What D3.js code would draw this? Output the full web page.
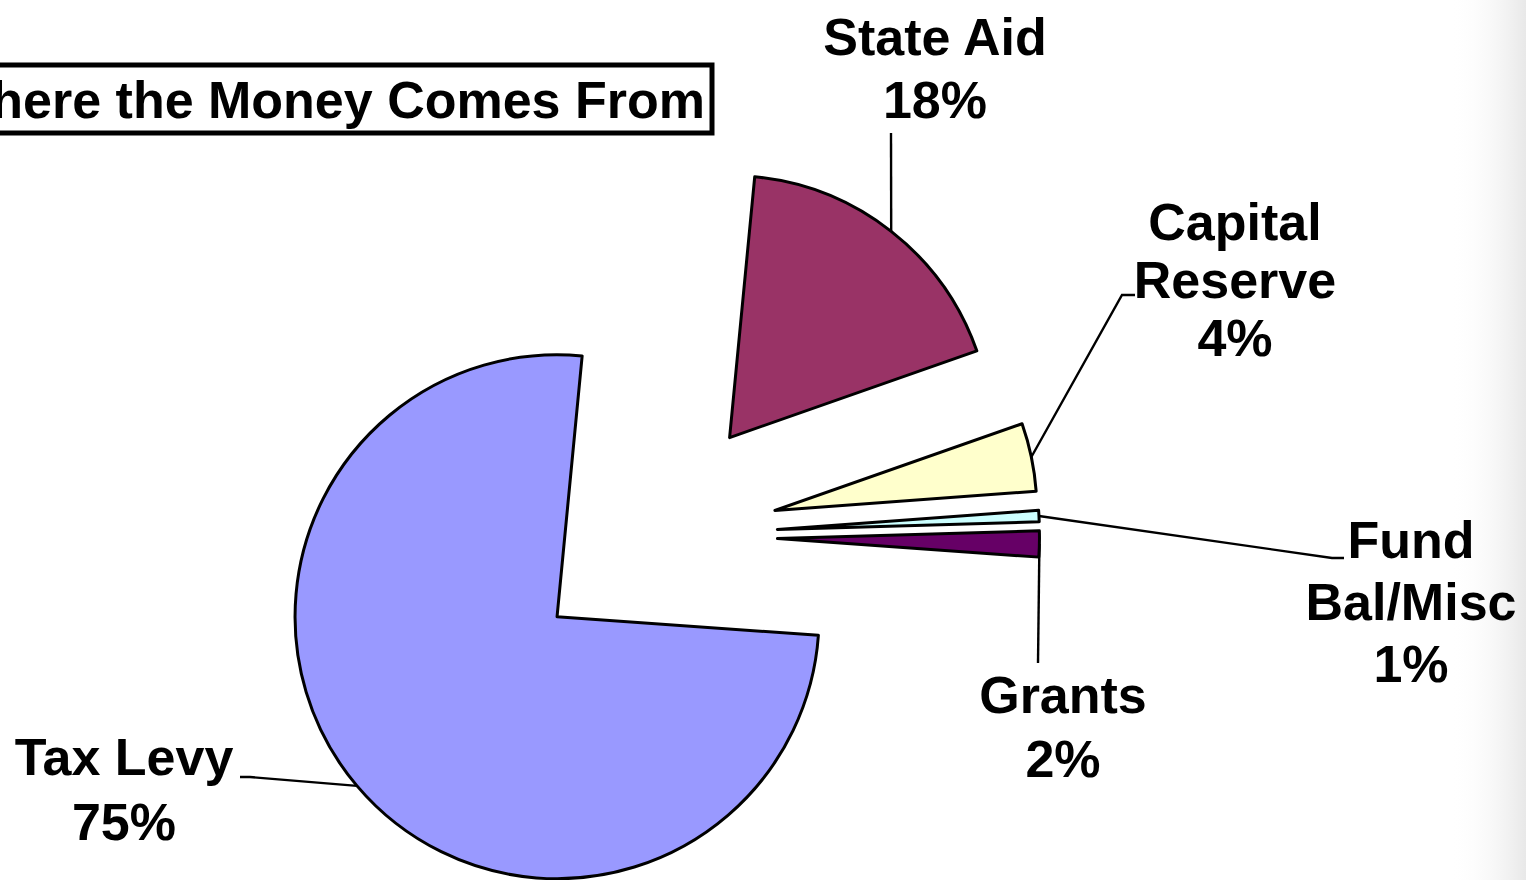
<!DOCTYPE html>
<html>
<head>
<meta charset="utf-8">
<script src="https://cdn.jsdelivr.net/npm/d3@7"></script>
<style>
  html, body { margin: 0; padding: 0; background: #fff; overflow: hidden; }
  svg { display: block; }
  text { font-family: "Liberation Sans", Arial, sans-serif; font-weight: bold; fill: #000; }
</style>
</head>
<body>
<svg id="chart" width="1526" height="880"></svg>
<script>
// ---- data ----
const categories = ["State Aid", "Capital Reserve", "Fund Bal/Misc", "Grants", "Tax Levy"];
const values = [18.1, 4.2, 0.7, 1.6, 75.4];
const colors = ["#993366", "#FFFFCC", "#CCFFFF", "#660066", "#9999FF"];
const labelLines = [["State Aid"], ["Capital", "Reserve"], ["Fund", "Bal/Misc"], ["Grants"], ["Tax Levy"]];
const titleText = "Where the Money Comes From";

// ---- layout (positions only) ----
const W = 1526, H = 880;
const center = [652.5, 536];
const radius = 262;
const explode = 125;
const startDeg = 5.5;
const labelLayout = [
  { x: 935, y: 55, lh: 63, leader: [[891, 133]] },
  { x: 1235, y: 240, lh: 58, leader: [[1122, 295], [1135, 295]] },
  { x: 1411, y: 558, lh: 62, leader: [[1332, 558], [1344, 558]] },
  { x: 1063, y: 713, lh: 64, leader: [[1038, 663]] },
  { x: 124, y: 775, lh: 65, leader: [[250, 777], [240, 777]] }
];

const svg = d3.select("#chart");

// subtle slide shadow at right edge
const defs = svg.append("defs");
const grad = defs.append("linearGradient").attr("id", "edge").attr("x1", 0).attr("x2", 1).attr("y1", 0).attr("y2", 0);
grad.append("stop").attr("offset", "0%").attr("stop-color", "#ffffff").attr("stop-opacity", 0);
grad.append("stop").attr("offset", "100%").attr("stop-color", "#e8e8e8").attr("stop-opacity", 1);
svg.append("rect").attr("x", 1450).attr("y", 0).attr("width", W - 1450).attr("height", H).attr("fill", "url(#edge)");

const total = d3.sum(values);
const rad = d => d * Math.PI / 180;
const pie = d3.pie().sort(null).value(d => d.v)
  .startAngle(rad(startDeg)).endAngle(rad(startDeg) + 2 * Math.PI);
const data = categories.map((c, i) => ({ c, v: values[i], i }));
const arcs = pie(data);
const arcGen = d3.arc().innerRadius(0).outerRadius(radius);

const dirOf = a => [Math.sin(a), -Math.cos(a)];

const g = svg.append("g").attr("transform", `translate(${center[0]},${center[1]})`);
g.selectAll("path.slice").data(arcs).enter().append("path")
  .attr("class", "slice")
  .attr("d", arcGen)
  .attr("transform", d => {
    const m = (d.startAngle + d.endAngle) / 2;
    const [dx, dy] = dirOf(m);
    return `translate(${dx * explode},${dy * explode})`;
  })
  .attr("fill", d => colors[d.data.i])
  .attr("stroke", "#000")
  .attr("stroke-width", 3)
  .attr("stroke-linejoin", "round");

// leader lines
arcs.forEach((d, i) => {
  const m = (d.startAngle + d.endAngle) / 2;
  const [dx, dy] = dirOf(m);
  const sx = center[0] + dx * (explode + radius);
  const sy = center[1] + dy * (explode + radius);
  const pts = [[sx, sy]].concat(labelLayout[i].leader);
  svg.append("path")
    .attr("d", d3.line()(pts))
    .attr("fill", "none").attr("stroke", "#000").attr("stroke-width", 2.4);
});

// labels
arcs.forEach((d, i) => {
  const L = labelLayout[i];
  const lines = labelLines[i].concat([Math.round(d.data.v / total * 100) + "%"]);
  const t = svg.append("text").attr("text-anchor", "middle").attr("font-size", 52);
  lines.forEach((s, k) => {
    t.append("tspan").attr("x", L.x).attr("y", L.y + k * L.lh).text(s);
  });
});

// title box (partly off-canvas to the left, as in the source slide)
svg.append("rect").attr("x", -60).attr("y", 65).attr("width", 772).attr("height", 68)
  .attr("fill", "#fff").attr("stroke", "#000").attr("stroke-width", 5);
svg.append("text").attr("x", 705).attr("y", 118).attr("text-anchor", "end")
  .attr("font-size", 52).text(titleText);
</script>
</body>
</html>
